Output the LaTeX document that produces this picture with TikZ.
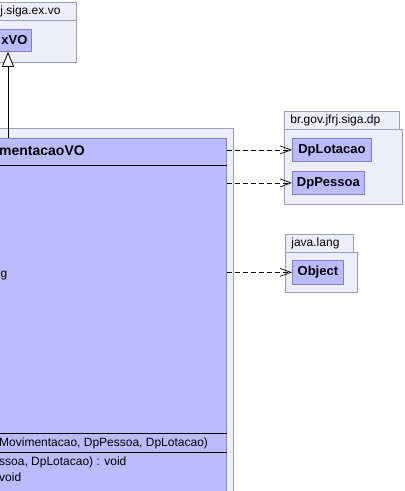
\documentclass[tikz,border=0pt]{standalone}
\usepackage{fontspec}
\setmainfont{Liberation Sans}
\usetikzlibrary{positioning, arrows.meta}
\definecolor{ink}{HTML}{000000}
\definecolor{pkgfill}{HTML}{EEEEFA}
\definecolor{pkgline}{HTML}{9C9CB4}
\definecolor{clsfill}{HTML}{BBBBFF}
\definecolor{clsline}{HTML}{8080C4}
\tikzset{
  every node/.style = {text=ink, inner sep=0pt, font=\fontsize{12}{14}\selectfont},
  umlpkg/.style   = {draw=pkgline, fill=pkgfill, line width=0.8pt, anchor=north west},
  umltab/.style   = {umlpkg, align=left, inner xsep=6pt, minimum height=18pt},
  umlcls/.style   = {draw=clsline, fill=clsfill, line width=0.8pt, anchor=north west,
                     font=\bfseries\fontsize{13}{15}\selectfont},
  umlname/.style  = {anchor=west, font=\bfseries\fontsize{14}{16}\selectfont},
  umlmember/.style= {anchor=west, font=\fontsize{12}{14}\selectfont},
  umlsep/.style   = {draw=ink, line width=0.8pt},
  umldep/.style   = {-{Straight Barb[length=11pt,width=8pt]}, draw=ink, line width=0.7pt,
                     dash pattern=on 5pt off 3pt},
  umlext/.style   = {-{Triangle[open, length=15pt, width=12pt, fill=white]}, draw=ink, line width=0.8pt},
}

\begin{document}
\begin{tikzpicture}[x=1pt, y=-1pt]
\useasboundingbox (0,0) rectangle (405,491);
\clip (0,0) rectangle (405,491);
\fill[white] (0,0) rectangle (405,491);

\node[umltab, text width=70pt] (extab) at (-6,2) {j.siga.ex.vo};
\node[umlpkg, minimum width=82pt, minimum height=42pt] (expkg) at (-6,20) {};
\node[umlcls, minimum width=46pt, minimum height=22pt] (xvo) at (-15,29) {\hspace*{12pt}xVO};

\node[umlpkg, anchor=north east, minimum width=320pt, minimum height=400pt] (mvpkg) at (234,128) {};
\node[umlcls, anchor=north east, minimum width=320pt, minimum height=390pt] (vo) at (227,138) {};
\node[umlname] (voname) at (-1,151) {mentacaoVO};
\draw[umlsep] (vo.west |- 0,165) -- (vo.east |- 0,165);
\node[umlmember] (voattr) at (0.5,276) {g};
\draw[umlsep] (vo.west |- 0,433) -- (vo.east |- 0,433);
\node[umlmember] (voctor) at (-1,443) {Movimentacao, DpPessoa, DpLotacao)};
\draw[umlsep] (vo.west |- 0,452) -- (vo.east |- 0,452);
\node[umlmember] (vofirst) at (-1,462) {ssoa, DpLotacao) : void};
\node[umlmember] (vosecond) at (-1,477) {void};

\node[umltab, text width=103pt] (dptab) at (284,111) {br.gov.jfrj.siga.dp};
\node[umlpkg, minimum width=118pt, minimum height=75pt] (dppkg) at (284,129) {};
\node[umlcls, minimum width=79pt, minimum height=23pt] (lot) at (292,138) {DpLotacao};
\node[umlcls, minimum width=72pt, minimum height=23pt] (pes) at (292,171) {DpPessoa};

\node[umltab, text width=56pt] (langtab) at (285,234) {java.lang};
\node[umlpkg, minimum width=72pt, minimum height=40pt] (langpkg) at (285,252) {};
\node[umlcls, minimum width=51pt, minimum height=24pt] (obj) at (292,260) {Object};

\coordinate (extx) at (8,0);
\draw[umlext] (vo.north -| extx) -- (xvo.south -| extx);
\draw[umldep] (vo.east |- lot.west) -- (lot.west);
\draw[umldep] (vo.east |- pes.west) -- (pes.west);
\draw[umldep] (vo.east |- obj.west) -- (obj.west);
\end{tikzpicture}
\end{document}
